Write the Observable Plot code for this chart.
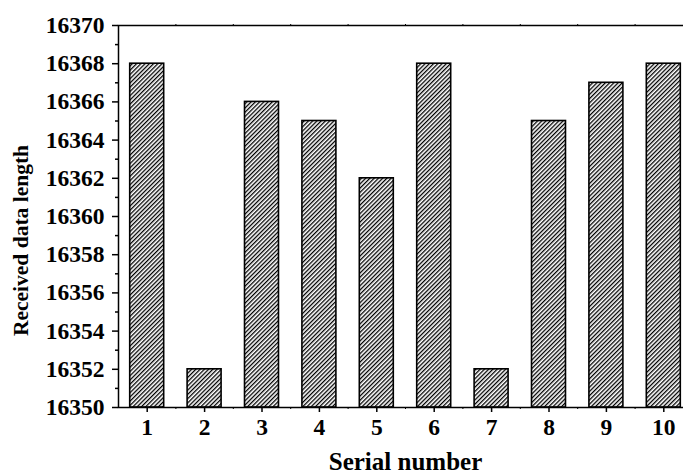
<!DOCTYPE html>
<html>
<head>
<meta charset="utf-8">
<script src="https://cdn.jsdelivr.net/npm/d3@7"></script>
<script src="https://cdn.jsdelivr.net/npm/@observablehq/plot@0.6"></script>
<style>
html, body { margin: 0; padding: 0; overflow: hidden; background: #fff; }
#wrap { width: 683px; height: 474px; overflow: hidden; }
#wrap svg { max-width: none !important; }
</style>
</head>
<body>
<div id="wrap"></div>
<script>
const serial = [1, 2, 3, 4, 5, 6, 7, 8, 9, 10];
const received = [16368, 16352, 16366, 16365, 16362, 16368, 16352, 16365, 16367, 16368];
const baseline = 16350;
const yMajorTicks = [16350, 16352, 16354, 16356, 16358, 16360, 16362, 16364, 16366, 16368, 16370];
const yMinorTicks = [16351, 16353, 16355, 16357, 16359, 16361, 16363, 16365, 16367, 16369];
const xMinorTicks = [1.5, 2.5, 3.5, 4.5, 5.5, 6.5, 7.5, 8.5, 9.5];
const xLabel = "Serial number";
const yLabel = "Received data length";

const data = serial.map((s, i) => ({s, v: received[i]}));
const half = 0.296;

const svg = Plot.plot({
  width: 693,
  height: 474,
  marginLeft: 118,
  marginRight: 1,
  marginTop: 25,
  marginBottom: 67,
  x: {domain: [0.5, 10.5]},
  y: {domain: [16350, 16370]},
  style: {fontFamily: "'Liberation Serif', 'Times New Roman', serif", fontWeight: "bold", fontSize: "23.5px", color: "black", background: "white", maxWidth: "none"},
  marks: [
    Plot.rect(data, {x1: d => d.s - half, x2: d => d.s + half, y1: () => baseline, y2: "v", fill: "url(#hatch)", stroke: "black", strokeWidth: 1.6}),
    Plot.frame({stroke: "black", strokeWidth: 1.5}),
    Plot.axisY({ticks: yMajorTicks, tickSize: 6, tickPadding: 8, tickFormat: d => String(d), label: null, fontSize: 23.5, strokeWidth: 1.5}),
    Plot.axisY({ticks: yMinorTicks, tickSize: 3, tickFormat: () => "", label: null, strokeWidth: 1.5}),
    Plot.axisX({ticks: serial, tickSize: 5, tickPadding: 6, tickFormat: d => String(d), label: null, fontSize: 23.5, strokeWidth: 1.5}),
    Plot.axisX({ticks: xMinorTicks, tickSize: 2, tickFormat: () => "", label: null, strokeWidth: 1}),
    Plot.axisX({anchor: "top", ticks: xMinorTicks, tickSize: 2, tickFormat: () => "", label: null, strokeWidth: 1}),
    Plot.text([xLabel], {frameAnchor: "bottom", dy: 54, text: d => d, fontSize: 25, fontWeight: "bold", lineAnchor: "middle"}),
    Plot.text([yLabel], {frameAnchor: "left", dx: -97, dy: 24, rotate: -90, text: d => d, fontSize: 21.5, fontWeight: "bold", textAnchor: "middle", lineAnchor: "middle"})
  ]
});

const defs = d3.select(svg).insert("defs", ":first-child");
const pat = defs.append("pattern")
  .attr("id", "hatch")
  .attr("patternUnits", "userSpaceOnUse")
  .attr("width", 3)
  .attr("height", 3)
  .attr("patternTransform", "rotate(45)");
pat.append("rect").attr("width", 3).attr("height", 3).attr("fill", "white");
pat.append("line").attr("x1", 0).attr("y1", 0).attr("x2", 0).attr("y2", 3).attr("stroke", "black").attr("stroke-width", 2.6);

document.getElementById("wrap").appendChild(svg);
</script>
</body>
</html>
